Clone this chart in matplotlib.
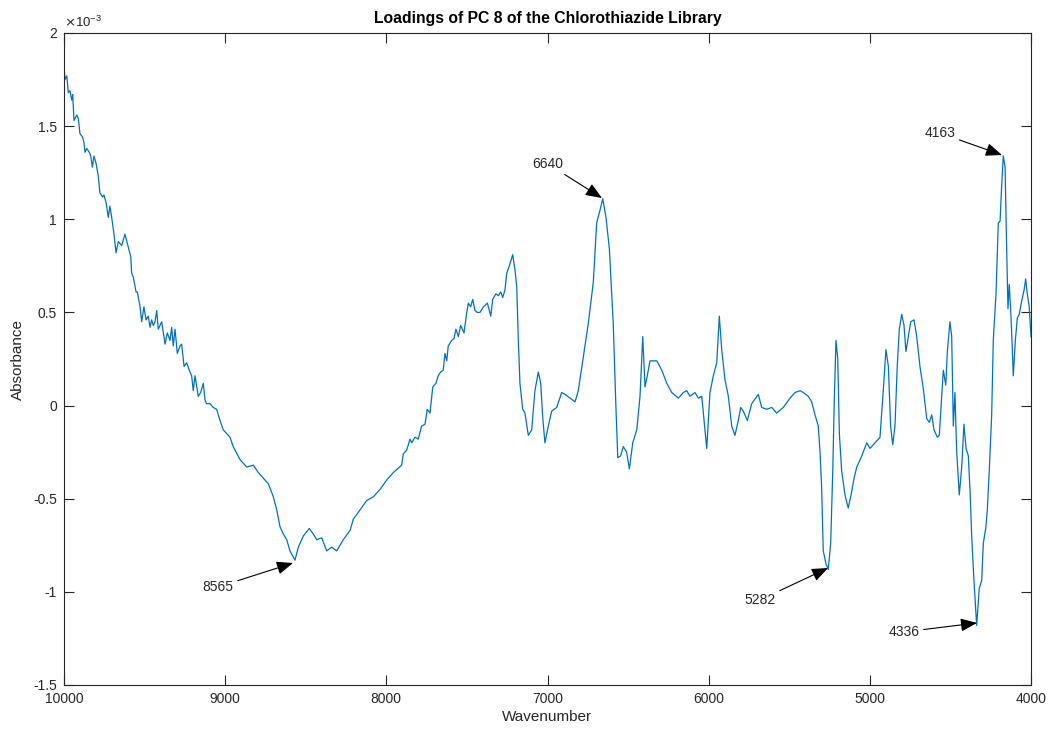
#!/usr/bin/env python3
"""PC 8 loadings of the chlorothiazide library, MATLAB-style line plot."""

import matplotlib
matplotlib.use('Agg')
import matplotlib.pyplot as plt
from matplotlib.ticker import FuncFormatter, FixedLocator

# Loading spectrum (values in units of 1e-3)
wavenumber = [
    # noisy descent 10000 -> 8970
    10000, 9994, 9983, 9973, 9963, 9952, 9946, 9938, 9921, 9911, 9901, 9884,
    9876, 9870, 9859, 9843, 9834, 9824, 9814, 9801, 9787, 9777, 9760, 9752,
    9739, 9725, 9715, 9704, 9690, 9677, 9663, 9642, 9622, 9601, 9586, 9580,
    9570, 9553, 9545, 9528, 9518, 9504, 9491, 9477, 9466, 9456, 9446, 9435,
    9425, 9415, 9394, 9373, 9359, 9342, 9332, 9322, 9311, 9297, 9280, 9270,
    9255, 9239, 9223, 9208, 9198, 9187, 9167, 9152, 9136, 9125, 9115, 9094,
    9074, 9053, 9032, 9012, 8991, 8970,
    # valley around 8565
    8950, 8908, 8866, 8825, 8794, 8763, 8732, 8701, 8680, 8660, 8639, 8618,
    8598, 8567, 8546, 8515, 8478, 8453, 8432, 8401, 8370, 8339, 8308, 8267,
    8225, 8205, 8163, 8122, 8081, 8039, 7998, 7957,
    # rise to 7216
    7905, 7895, 7874, 7853, 7843, 7822, 7802, 7781, 7760, 7746, 7729, 7712,
    7692, 7678, 7663, 7647, 7636, 7625, 7616, 7594, 7580, 7568, 7553, 7539,
    7518, 7501, 7491, 7477, 7464, 7450, 7436, 7419, 7398, 7373, 7352, 7340,
    7320, 7305, 7290, 7278, 7264, 7253, 7237, 7226, 7216, 7202, 7191, 7181, 7171,
    # band region
    7154, 7140, 7119, 7098, 7078, 7057, 7042,
    7030, 7016, 6995, 6974, 6943, 6912, 6891, 6860, 6829, 6809, 6778, 6747,
    6716, 6695, 6674, 6657, 6637, 6616, 6592, 6577, 6564, 6546, 6530, 6509,
    6492, 6471, 6446, 6426, 6409, 6395, 6381, 6364, 6322, 6291, 6260, 6229,
    6188, 6157, 6136, 6116, 6085, 6064, 6043, 6012, 5992, 5971, 5950, 5934,
    5919, 5899, 5878, 5857, 5837, 5816, 5801, 5785, 5760, 5733, 5692, 5671,
    5640, 5609, 5578, 5537, 5495, 5464, 5433, 5413, 5382, 5361, 5340, 5320,
    5309, 5299, 5289, 5272, 5258, 5243, 5230, 5220, 5210, 5199, 5189, 5175,
    5154, 5134, 5112, 5098, 5081, 5050, 5019, 4999, 4968, 4937, 4916, 4900,
    4885, 4871, 4858, 4844, 4830, 4817, 4802, 4788, 4776, 4761, 4746, 4726,
    4709, 4689, 4668, 4647, 4631, 4616, 4602, 4581, 4569, 4554, 4544, 4529,
    4519, 4503, 4492, 4482, 4472, 4461, 4445, 4430, 4416, 4403, 4389, 4378,
    4368, 4354, 4337, 4321, 4306, 4296, 4281, 4271, 4259, 4244, 4234, 4217,
    4203, 4192, 4182, 4172, 4161, 4151, 4143, 4135, 4126, 4118, 4110, 4097,
    4085, 4073, 4058, 4043, 4033, 4023, 4011, 4000,
]
loading_e3 = [
    1.82, 1.75, 1.77, 1.68, 1.69, 1.64, 1.67, 1.53, 1.56, 1.54, 1.46, 1.44,
    1.41, 1.36, 1.38, 1.36, 1.34, 1.28, 1.34, 1.30, 1.23, 1.14, 1.12, 1.13,
    1.09, 1.01, 1.07, 1.01, 0.92, 0.82, 0.88, 0.86, 0.92, 0.85, 0.80, 0.71,
    0.69, 0.61, 0.61, 0.53, 0.45, 0.53, 0.46, 0.48, 0.42, 0.46, 0.43, 0.45,
    0.51, 0.41, 0.45, 0.33, 0.39, 0.35, 0.42, 0.32, 0.41, 0.28, 0.32, 0.33,
    0.21, 0.23, 0.19, 0.16, 0.08, 0.16, 0.05, 0.07, 0.12, 0.03, 0.01, 0.01,
    -0.01, -0.02, -0.08, -0.13, -0.15, -0.17,
    -0.22, -0.29, -0.33, -0.32, -0.36, -0.39, -0.42, -0.49, -0.56, -0.65, -0.69, -0.72,
    -0.78, -0.83, -0.76, -0.70, -0.66, -0.69, -0.72, -0.71, -0.78, -0.76, -0.78, -0.72,
    -0.67, -0.61, -0.56, -0.51, -0.49, -0.45, -0.40, -0.36,
    -0.32, -0.26, -0.24, -0.18, -0.20, -0.17, -0.18, -0.11, -0.10, -0.02, -0.04, 0.10,
    0.12, 0.16, 0.18, 0.19, 0.28, 0.24, 0.32, 0.35, 0.36, 0.41, 0.37, 0.43,
    0.39, 0.50, 0.55, 0.53, 0.57, 0.51, 0.50, 0.50, 0.53, 0.55, 0.48, 0.57,
    0.60, 0.59, 0.61, 0.58, 0.62, 0.71, 0.75, 0.78, 0.81, 0.73, 0.64, 0.35, 0.12,
    -0.02, -0.04, -0.16, -0.13, 0.08, 0.18, 0.12,
    -0.06, -0.20, -0.11, -0.03, -0.01, 0.07, 0.06, 0.04, 0.02, 0.08, 0.26, 0.44,
    0.66, 0.98, 1.05, 1.11, 1.01, 0.84, 0.44, 0.03, -0.28, -0.27, -0.22, -0.25,
    -0.34, -0.20, -0.13, 0.05, 0.37, 0.10, 0.16, 0.24, 0.24, 0.19, 0.12, 0.07,
    0.04, 0.07, 0.08, 0.05, 0.07, 0.04, 0.05, -0.23, 0.07, 0.16, 0.23, 0.48,
    0.30, 0.14, 0.05, -0.11, -0.16, -0.08, -0.01, -0.03, -0.08, 0.01, 0.06, -0.01,
    -0.02, -0.01, -0.04, -0.01, 0.04, 0.07, 0.08, 0.07, 0.05, 0.02, -0.05, -0.11,
    -0.25, -0.44, -0.78, -0.85, -0.88, -0.74, -0.35, 0.05, 0.35, 0.25, -0.15, -0.35,
    -0.48, -0.55, -0.46, -0.39, -0.33, -0.27, -0.20, -0.23, -0.20, -0.17, 0.09, 0.30,
    0.21, -0.11, -0.21, -0.11, 0.21, 0.41, 0.49, 0.43, 0.29, 0.37, 0.45, 0.46,
    0.37, 0.21, 0.09, -0.07, -0.09, -0.05, -0.13, -0.17, -0.16, 0.05, 0.19, 0.11,
    0.29, 0.45, 0.37, -0.11, 0.07, -0.25, -0.48, -0.33, -0.10, -0.23, -0.27, -0.46,
    -0.70, -0.94, -1.18, -0.98, -0.94, -0.74, -0.66, -0.56, -0.35, -0.05, 0.35, 0.60,
    0.98, 0.99, 1.18, 1.34, 1.28, 0.84, 0.52, 0.65, 0.51, 0.35, 0.16, 0.35,
    0.47, 0.49, 0.56, 0.62, 0.68, 0.60, 0.53, 0.37,
]

# Peak labels: text, arrow tip (wavenumber, value) and text centre
peak_labels = ['8565', '6640', '5282', '4336', '4163']
peak_tips = [(8579, -0.845), (6662, 1.114), (5259, -0.872), (4335, -1.167), (4180, 1.345)]
label_pos = [(9044, -0.974), (6997, 1.297), (5681, -1.043), (4788, -1.215), (4565, 1.463)]

x_ticks = [10000, 9000, 8000, 7000, 6000, 5000, 4000]
y_ticks = [-1.5, -1, -0.5, 0, 0.5, 1, 1.5, 2]

DARK = '#262626'
LINE_BLUE = '#0072BD'

plt.rcParams['font.family'] = ['Liberation Sans', 'DejaVu Sans']
plt.rcParams['axes.unicode_minus'] = False

fig = plt.figure(figsize=(10.49, 7.29), dpi=100)
ax = fig.add_axes([64 / 1049, 1 - 685 / 729, 967 / 1049, 652 / 729])

ax.plot(wavenumber, loading_e3, color=LINE_BLUE, linewidth=0.9)

ax.set_xlim(10000, 4000)
ax.set_ylim(-1.5, 2)
ax.xaxis.set_major_locator(FixedLocator(x_ticks))
ax.yaxis.set_major_locator(FixedLocator(y_ticks))
ax.yaxis.set_major_formatter(FuncFormatter(lambda v, _: '%g' % v))
ax.xaxis.set_major_formatter(FuncFormatter(lambda v, _: '%d' % v))

ax.tick_params(direction='in', length=7, width=0.8, colors=DARK, labelsize=10,
               top=True, right=True, pad=5)
for side in ax.spines.values():
    side.set_color(DARK)
    side.set_linewidth(0.8)

ax.set_xlabel('Wavenumber', fontsize=11, color=DARK, labelpad=3)
ax.set_ylabel('Absorbance', fontsize=11, color=DARK, labelpad=6)
ax.set_title('Loadings of PC 8 of the Chlorothiazide Library',
             fontsize=11.3, fontweight='bold', color='black', pad=7)
ax.text(0.0, 1.004, r'$\times$10$^{\mathregular{-3}}$', transform=ax.transAxes,
        fontsize=9.5, color=DARK, ha='left', va='bottom')

for label, tip, pos in zip(peak_labels, peak_tips, label_pos):
    ax.annotate(label, xy=tip, xytext=pos, fontsize=10, color=DARK,
                ha='center', va='center',
                arrowprops=dict(arrowstyle='-|>,head_length=1.0,head_width=0.4',
                                color='black', lw=0.8, shrinkA=1, shrinkB=0))

fig.savefig('out.png', dpi=100)
